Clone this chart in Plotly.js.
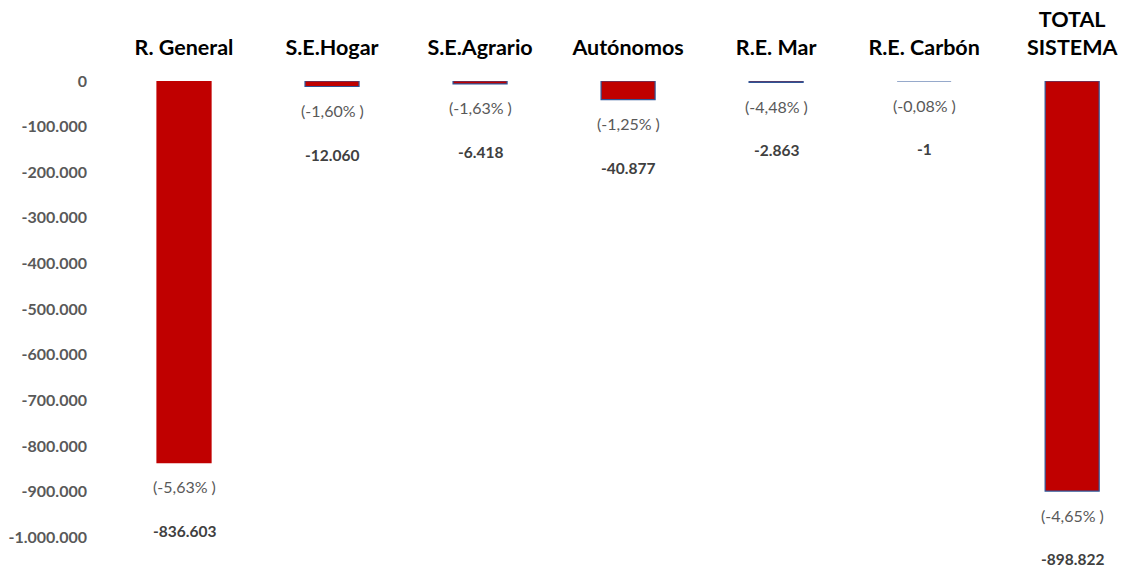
<!DOCTYPE html>
<html>
<head>
<meta charset="utf-8">
<script src="https://cdn.plot.ly/plotly-3.0.1.min.js"></script>
<style>
html,body{margin:0;padding:0;background:#fff;}
#chart{width:1122px;height:570px;}
</style>
</head>
<body>
<div id="chart"></div>
<script>
// ---- data ----
const categories = ["R. General", "S.E.Hogar", "S.E.Agrario", "Autónomos", "R.E. Mar", "R.E. Carbón", "TOTAL<br>SISTEMA"];
const values = [-836603, -12060, -6418, -40877, -2863, -1, -898822];
const percentLabels = ["(-5,63% )", "(-1,60% )", "(-1,63% )", "(-1,25% )", "(-4,48% )", "(-0,08% )", "(-4,65% )"];
const yTickVals = [0, -100000, -200000, -300000, -400000, -500000, -600000, -700000, -800000, -900000, -1000000];
const yTickText = ["0", "-100.000", "-200.000", "-300.000", "-400.000", "-500.000", "-600.000", "-700.000", "-800.000", "-900.000", "-1.000.000"];

function fmt(v) {
  const s = Math.abs(v).toString().replace(/\B(?=(\d{3})+(?!\d))/g, ".");
  return (v < 0 ? "-" : "") + s;
}

const FONT = "Lato, 'Open Sans', sans-serif";
const lineColors = categories.map((c, i) => i === 0 ? "#C00000" : "#2F5597");

const trace = {
  type: "bar",
  x: categories,
  y: values,
  width: 0.365,
  marker: { color: "#C00000", line: { color: lineColors, width: 1.2 } },
  hoverinfo: "skip"
};

const annotations = [];
categories.forEach((c, i) => {
  annotations.push({
    x: c, y: values[i], xref: "x", yref: "y",
    text: percentLabels[i], showarrow: false,
    yanchor: "middle", yshift: -24,
    font: { family: FONT, size: 16, color: "#595959" }
  });
  annotations.push({
    x: c, y: values[i], xref: "x", yref: "y",
    text: "<b>" + fmt(values[i]) + "</b>", showarrow: false,
    yanchor: "middle", yshift: -68,
    font: { family: FONT, size: 15.5, color: "#404040" }
  });
});

const layout = {
  width: 1122, height: 570,
  margin: { l: 110, r: 1, t: 81, b: 10 },
  paper_bgcolor: "#ffffff", plot_bgcolor: "#ffffff",
  showlegend: false,
  xaxis: {
    side: "top", type: "category",
    range: [-0.5, 6.33],
    showgrid: false, zeroline: false, showline: false, ticks: "",
    ticklabelstandoff: 21,
    tickfont: { family: FONT, size: 21.5, color: "#000000", weight: "bold" }
  },
  yaxis: {
    range: [-1050000, 0],
    tickvals: yTickVals, ticktext: yTickText,
    showgrid: false, zeroline: false, showline: false, ticks: "",
    ticklabelstandoff: 22,
    tickfont: { family: FONT, size: 16, color: "#595959", weight: "bold" }
  },
  annotations: annotations
};

Plotly.newPlot("chart", [trace], layout, { displayModeBar: false, staticPlot: true });
</script>
</body>
</html>
